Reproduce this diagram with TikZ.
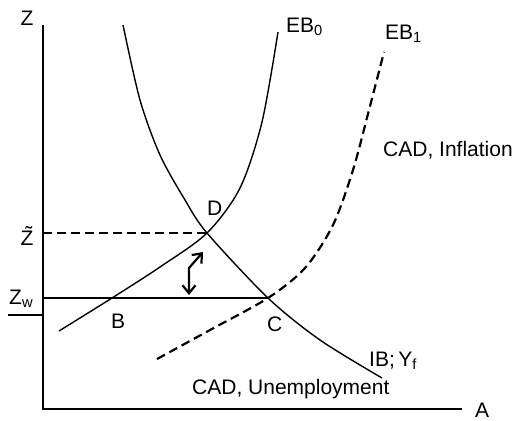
\documentclass[tikz,border=0pt]{standalone}
\usepackage{fontspec}
\setmainfont{Liberation Sans}
\usetikzlibrary{arrows.meta}
\begin{document}
\begin{tikzpicture}[x=1pt,y=-1pt,
  lbl/.style={font=\fontsize{21}{24}\selectfont, inner sep=0pt},
  curve/.style={line width=1.4pt},
  dcurve/.style={line width=2.2pt, dash pattern=on 9pt off 5pt},
  >={Straight Barb[length=8pt,width=13pt]}]
\useasboundingbox (0,0) rectangle (515,421);
% axes
\coordinate (ztop) at (43,25);
\coordinate (o) at (43,409);
\coordinate (aend) at (462,409);
\draw[curve] (ztop) -- (o) -- (aend);
% key points
\coordinate (D) at (207,233);
\coordinate (C) at (268,298);
\coordinate (B) at (112,298);
\coordinate (zw0) at (43,298);
\coordinate (zt0) at (43,233);
\coordinate (u1) at (8,315);
\coordinate (u2) at (43,315);
\draw[curve] (zw0) -- (C);
\draw[dcurve] (zt0) -- (D);
\draw[curve] (u1) -- (u2);
% EB0
\draw[curve] plot[smooth] coordinates {(59,331) (B) (160,267) (D) (240,188) (262,122) (278,32)};
% IB
\draw[curve] plot[smooth] coordinates {(123,25) (140,100) (160,155) (185,200) (D) (C) (320,340) (382,378)};
% EB1
\draw[dcurve] plot[smooth] coordinates {(157,359) (210,330) (C) (305,268) (333,225) (353,170) (369,110) (384,52)};
% arrow
\coordinate (ar1) at (203,252);
\coordinate (ar2) at (189,268);
\coordinate (ar3) at (189,295);
\draw[line width=2.2pt, <->] (ar1) -- (ar2) -- (ar3);
% labels
\node[lbl, anchor=base] (lZ) at (27,25) {Z};
\node[lbl, anchor=base west] (lEB0) at (286,32) {EB\textsubscript{0}};
\node[lbl, anchor=base west] (lEB1) at (385,39) {EB\textsubscript{1}};
\node[lbl, anchor=base west] (lInf) at (383,156) {CAD, Inflation};
\node[lbl, anchor=base west] (lD) at (207,215) {D};
\node[lbl, anchor=base west] (lC) at (267,331) {C};
\node[lbl, anchor=base west] (lB) at (111,328) {B};
\node[lbl, anchor=base west] (lIB) at (369,366) {IB;\,Y\textsubscript{f}};
\node[lbl, anchor=base west] (lUn) at (192,394) {CAD, Unemployment};
\node[lbl, anchor=base west] (lA) at (475,417) {A};
\node[lbl, anchor=base] (lZt) at (27,245) {\~{Z}};
\node[lbl, anchor=base west] (lZw) at (9,304) {Z\textsubscript{w}};
\end{tikzpicture}
\end{document}
